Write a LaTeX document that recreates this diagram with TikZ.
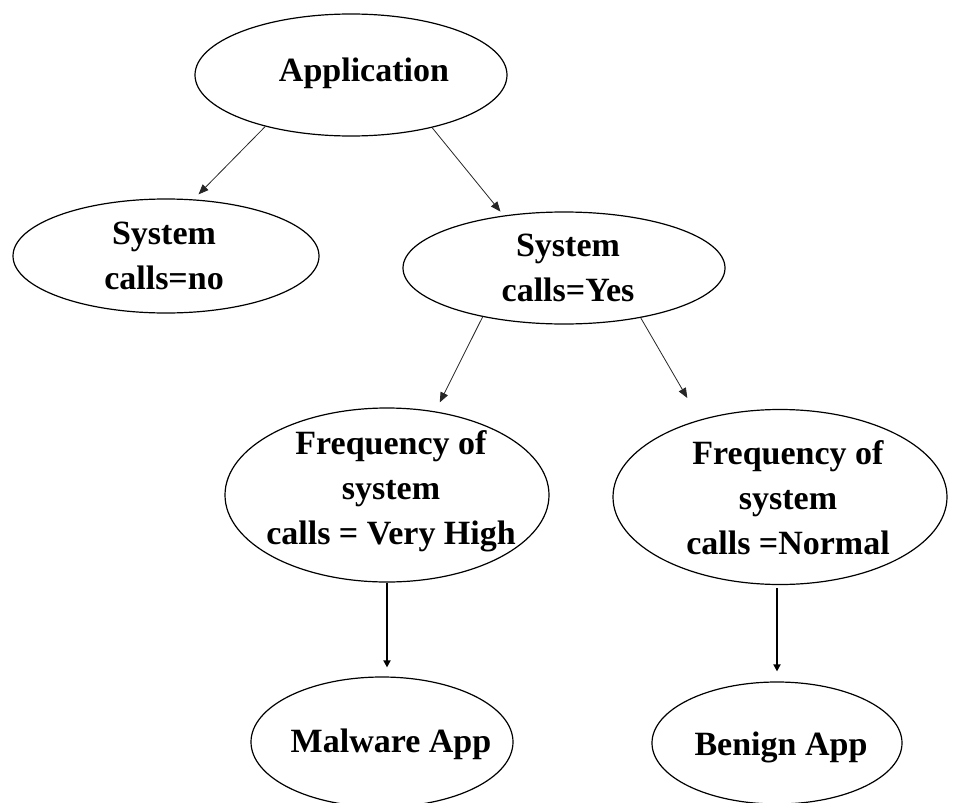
\documentclass[tikz,border=0pt]{standalone}
\usepackage{fontspec}
\setmainfont{Liberation Serif}
\usetikzlibrary{shapes.geometric,arrows.meta}
\begin{document}
\begin{tikzpicture}[x=1pt,y=-1pt,
  oval/.style={ellipse,draw=black,line width=1.2pt,inner sep=0pt},
  txt/.style={align=center,inner sep=0pt,font=\fontsize{34}{45}\selectfont\bfseries},
  thinarrow/.style={draw=black!85,line width=0.8pt,-{Triangle[length=10pt,width=8pt]}},
  thickarrow/.style={draw=black,line width=2.5pt,-{Triangle[length=7pt,width=7pt]}}]
\useasboundingbox (0,0) rectangle (953,803);
\node[oval,minimum width=312pt,minimum height=122pt,
  label={[txt,xshift=13pt,yshift=2pt]center:Application}] (app) at (351,75) {};
\node[oval,minimum width=306pt,minimum height=114pt,
  label={[txt,xshift=-2pt]center:{System\\calls=no}}] (no) at (166,256) {};
\node[oval,minimum width=322pt,minimum height=112pt,
  label={[txt,xshift=4pt]center:{System\\calls=Yes}}] (yes) at (564,268) {};
\node[oval,minimum width=324pt,minimum height=174pt,
  label={[txt,xshift=4pt,yshift=4pt]center:{Frequency of\\system\\calls = Very High}}] (vh) at (387,495) {};
\node[oval,minimum width=334pt,minimum height=175pt,
  label={[txt,xshift=8pt,yshift=-1pt]center:{Frequency of\\system\\calls =Normal}}] (nor) at (780,497) {};
\node[oval,minimum width=262pt,minimum height=130pt,
  label={[txt,xshift=9pt,yshift=-2pt]center:Malware App}] (mal) at (382,742) {};
\node[oval,minimum width=250pt,minimum height=122pt,
  label={[txt,xshift=4pt,yshift=-4pt]center:Benign App}] (ben) at (777,743) {};
\draw[thinarrow,shorten >=7pt] (app.211.5) -- (no.64);
\draw[thinarrow,shorten >=5pt] (app.327) -- (yes.139);
\draw[thinarrow,shorten >=10pt] (yes.211.4) -- (vh.60.3);
\draw[thinarrow,shorten >=25pt] (yes.327.3) -- (nor.136.5);
\draw[thickarrow,shorten >=9pt] (vh.south) -- (vh.south |- mal.north);
\draw[thickarrow,shorten <=3pt,shorten >=10pt] (ben.north |- nor.south) -- (ben.north);
\end{tikzpicture}
\end{document}
